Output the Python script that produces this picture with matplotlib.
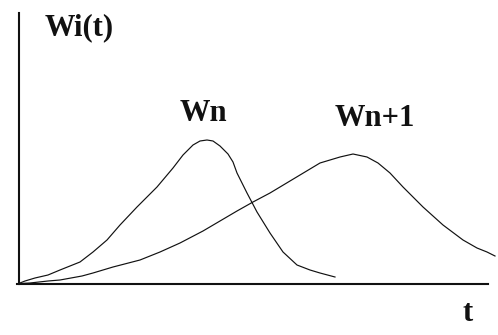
import matplotlib
matplotlib.use("Agg")
import matplotlib.pyplot as plt

# Curve samples: time t and weight value W
wn_t = [1, 6, 16, 29, 41, 61, 74, 88, 101, 118, 138, 154, 164, 174, 181, 188, 194,
        201, 209, 214, 218, 223, 228, 238, 251, 264, 278, 291, 301, 316]
wn_w = [0.5, 2.5, 5.5, 8.5, 13.5, 21.5, 31.5, 43.5, 58.5, 76.5, 96.5, 115.5, 128.5,
        138.5, 142.5, 143.5, 142.5, 137.5, 129.5, 121.5, 110.5, 100.5, 90.5, 71.5,
        50.5, 31.5, 18.5, 13.5, 10.5, 6.5]

wn1_t = [1, 11, 29, 41, 63, 74, 94, 121, 141, 161, 184, 201, 218, 234, 251, 261, 281,
         301, 321, 334, 348, 359, 371, 384, 404, 424, 444, 458, 468, 476]
wn1_w = [0, 0.5, 2.5, 3.5, 7.5, 10.5, 16.5, 23.5, 31.5, 40.5, 52.5, 62.5, 72.5, 81.5,
         90.5, 96.5, 108.5, 120.5, 126.5, 129.5, 126.5, 120.5, 110.5, 96.5, 76.5,
         58.5, 43.5, 35.5, 31.5, 27.5]

labels = {"Wi(t)": (26, 256), "Wn": (184, 170), "Wn+1": (356, 165), "t": (449, -30)}

fig = plt.figure(figsize=(4.98, 3.35), dpi=100)
ax = fig.add_axes([0, 0, 1, 1])
ax.set_xlim(-19, 479)
ax.set_ylim(-51.5, 283.5)

ink = "#111111"
ax.plot(wn_t, wn_w, color=ink, lw=0.85, solid_joinstyle="round")
ax.plot(wn1_t, wn1_w, color=ink, lw=0.85, solid_joinstyle="round")

for s in ("top", "right"):
    ax.spines[s].set_visible(False)
ax.spines["left"].set_position(("data", 0))
ax.spines["bottom"].set_position(("data", 0))
ax.spines["left"].set_bounds(-0.5, 270.5)
ax.spines["bottom"].set_bounds(-2, 469)
for s in ("left", "bottom"):
    ax.spines[s].set_linewidth(1.5)
    ax.spines[s].set_color(ink)
ax.set_xticks([])
ax.set_yticks([])
ax.patch.set_visible(False)

font = dict(family="Liberation Serif", fontweight="bold", fontsize=22, color=ink)
ax.text(*labels["Wi(t)"], "Wi(t)", ha="left", va="center", **font)
ax.text(*labels["Wn"], "Wn", ha="center", va="center", **font)
ax.text(*labels["Wn+1"], "Wn+1", ha="center", va="center", **font)
ax.text(*labels["t"], "t", ha="center", va="center", **font)

fig.savefig("out.png", dpi=100, facecolor="white")
